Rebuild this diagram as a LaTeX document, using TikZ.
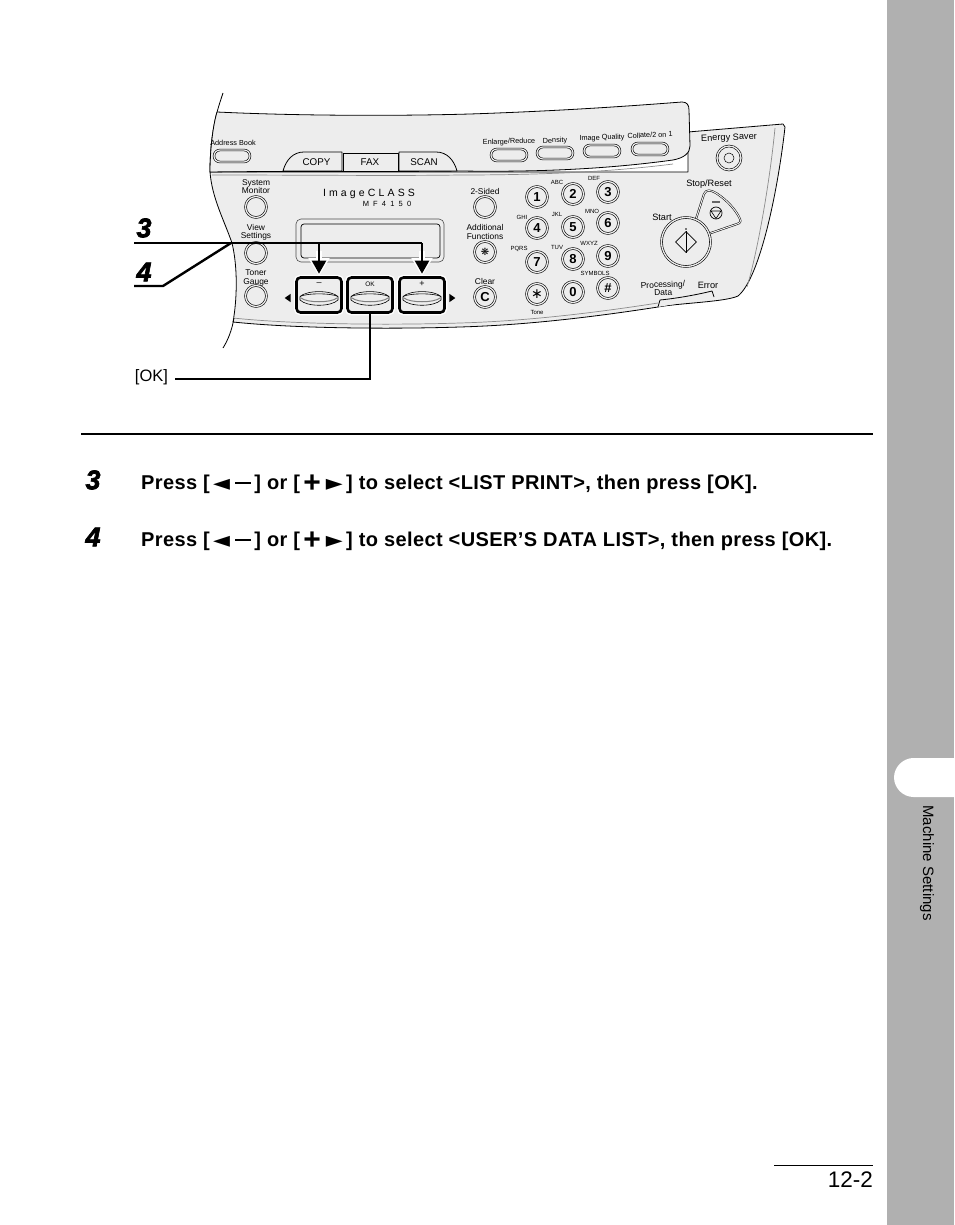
\documentclass[tikz,border=0pt]{standalone}
\usepackage{fontspec}
\setmainfont{Liberation Sans}
\newfontfamily\symfont{DejaVu Sans}
\newfontfamily\stepfont[BoldItalicFeatures={FakeBold=2.5}]{Liberation Sans}
\usetikzlibrary{positioning}
\usetikzlibrary{arrows.meta,shapes}
\usetikzlibrary{shapes.geometric}
\definecolor{panelgray}{gray}{0.93}
\definecolor{tabgray}{gray}{0.69}
\tikzstyle{panelline}=[draw=black,line width=0.8pt,line join=round]
\tikzstyle{softline}=[draw=black!45,line width=0.7pt]
\tikzstyle{keylabel}=[font=\fontsize{8.4}{8.2}\selectfont,align=center,inner sep=0pt]
\tikzstyle{toplabel}=[font=\fontsize{7.3}{8}\selectfont,inner sep=0pt,rotate=2]
\tikzstyle{biglabel}=[font=\fontsize{9.2}{9}\selectfont,align=center,inner sep=0pt]
\tikzstyle{tinylabel}=[font=\fontsize{6}{6}\selectfont,inner sep=0pt]
\tikzstyle{roundkey}=[circle,draw=black,line width=0.6pt,double=panelgray,double distance=1.3pt,fill=panelgray,minimum size=21pt,inner sep=0pt,font=\fontsize{13}{13}\bfseries\selectfont]
\tikzstyle{ovalkey}=[rounded rectangle,draw=black,line width=0.6pt,double=panelgray,double distance=1.2pt,minimum width=36pt,minimum height=12pt,inner sep=0pt]
\tikzstyle{softkey}=[draw=black,line width=2.6pt,rounded corners=4pt,fill=panelgray,minimum width=45pt,minimum height=35pt,inner sep=0pt,preaction={draw=white,line width=5.5pt}]
\tikzstyle{modetab}=[panelline,fill=panelgray]
\tikzstyle{leader}=[draw=black,line width=2.4pt]
\tikzstyle{stepnum}=[font=\stepfont\fontsize{27}{27}\bfseries\itshape\selectfont,inner sep=0pt]
\tikzstyle{steptext}=[font=\fontsize{20}{22}\bfseries\selectfont\addfontfeature{LetterSpace=2.0},anchor=west,inner sep=0pt]
\newcommand{\leftsign}{\raisebox{-1pt}{\symfont\fontsize{22}{22}\selectfont ◄}\hspace{5pt}\rule[4.8pt]{16pt}{2.4pt}}
\newcommand{\rightsign}{{\fontsize{30}{22}\selectfont\raisebox{-3pt}{+}}\hspace{5pt}\raisebox{-1pt}{\symfont\fontsize{22}{22}\selectfont ►}}
\begin{document}
\begin{tikzpicture}[x=1pt,y=-1pt]
   \useasboundingbox (0,0) rectangle (954,1225);

   % side band with its tab
   \fill[tabgray] (887,0) rectangle (954,1225);
   \fill[white] (954,758) -- (913.5,758) .. controls (903,758) and (894,767) .. (894,777.5)
      .. controls (894,788) and (903,797) .. (913.5,797) -- (954,797) -- cycle;
   \node[font=\fontsize{15}{15}\selectfont,rotate=-90,inner sep=0pt] (sidelabel) at (927,863) {Machine Settings};

   % panel body and flap
   \path[panelline,fill=panelgray] (210,172) .. controls (212,198) and (224,220) .. (232,243)
      .. controls (238,268) and (237,300) .. (233,322)
      .. controls (300,329) and (400,329) .. (460,327)
      .. controls (530,325) and (600,316) .. (658,307)
      .. controls (680,303) and (725,302) .. (738,296)
      .. controls (760,278) and (778,190) .. (785,127)
      -- (783,124) -- (688,132) -- (688,172) -- cycle;
   \path[softline] (775,128) .. controls (770,180) and (758,250) .. (747,287);
   \path[softline] (233,318) .. controls (300,325) and (400,325) .. (460,323)
      .. controls (530,321) and (600,312) .. (658,303);
   \path[panelline] (223,93) .. controls (218,108) and (210,130) .. (210,172);
   \path[panelline] (234,318) .. controls (232,330) and (228,340) .. (223,348);
   \path[panelline,fill=panelgray] (217,112) .. controls (300,116) and (400,116) .. (470,114)
      .. controls (560,111) and (630,106) .. (682,102)
      .. controls (687,102) and (689,105) .. (689,110) -- (690,146)
      .. controls (690,153) and (684,158) .. (673,160)
      .. controls (600,170) and (530,172) .. (460,171)
      .. controls (380,172) and (280,171) .. (210,172)
      .. controls (210,150) and (213,125) .. (217,112) -- cycle;
   \path[softline] (212,175) .. controls (300,175) and (400,176) .. (460,175)
      .. controls (540,175) and (610,172) .. (673,164);

   % copy fax scan tabs
   \path[modetab] (283,171) .. controls (286,160) and (293,152) .. (304,152) -- (342,152) -- (342,171) -- cycle;
   \path[modetab] (343,153) rectangle (398,171);
   \path[modetab] (399,171) -- (399,152) -- (436,152) .. controls (447,152) and (454,160) .. (457,171) -- cycle;
   \foreach \pos/\name/\label in {{(316.5,162)/copytab/COPY}, {(370,162)/faxtab/FAX}, {(424,162)/scantab/SCAN}}
        \node[font=\fontsize{9.8}{9}\selectfont,inner sep=0pt] (\name) at \pos {\label};

   % labels on the panel
   \node[keylabel,font=\fontsize{7.3}{8}\selectfont] (addrtext) at (233,143) {Address Book};
   \foreach \pos/\name/\label in {{(256,187)/systext/System\\Monitor}, {(256,232)/viewtext/View\\Settings},
        {(256,278)/tonertext/Toner\\Gauge}, {(485,191)/sidedtext/2-Sided}, {(485,232)/addtext/Additional\\Functions},
        {(485,281)/cleartext/Clear}}
        \node[keylabel] (\name) at \pos {\label};
   \foreach \pos/\name/\label in {{(509,142)/enltext/{Enlarge/Reduce}}, {(555,141)/dentext/Density}, {(602,138)/imgtext/Image Quality},
        {(650,135)/coltext/{Collate/2 on 1}}}
        \node[toplabel] (\name) at \pos {\label};
   \foreach \pos/\name/\label in {{(708,285)/errtext/Error}, {(662,217)/starttext/Start},
        {(709,184)/stoptext/{Stop/Reset}}}
        \node[biglabel] (\name) at \pos {\label};
   \node[biglabel,rotate=2] (energytext) at (729,138) {Energy Saver};
   \node[keylabel,font=\fontsize{8.5}{8}\selectfont,rotate=2] (proctext) at (663,288.5) {Processing/\\Data};
   \foreach \pos/\name/\label in {{(557,182)/abc/ABC}, {(594,178)/def/DEF}, {(522,217)/ghi/GHI}, {(557,214)/jkl/JKL}, {(592,211)/mno/MNO},
        {(519,249)/pqrs/PQRS}, {(557,247)/tuv/TUV}, {(589,243)/wxyz/WXYZ}, {(595,273)/symb/SYMBOLS}, {(537,312)/tone/Tone}}
        \node[tinylabel] (\name) at \pos {\label};
   \node[font=\fontsize{10.5}{10}\selectfont\addfontfeature{LetterSpace=30},inner sep=0pt] (brand) at (369,194) {ImageCLASS};
   \node[font=\fontsize{7.5}{8}\selectfont,inner sep=0pt] (model) at (387,204) {M\ \ F\ \ 4\ \ 1\ \ 5\ \ 0};

   % round keys
   \foreach \pos/\name/\label in {{(537,197)/key1/1}, {(573,194)/key2/2}, {(608,192)/key3/3}, {(537,228)/key4/4}, {(573,227)/key5/5},
        {(608,223)/key6/6}, {(537,262)/key7/7}, {(573,259)/key8/8}, {(608,256)/key9/9}, {(573,292)/key0/0}, {(608,288)/keyhash/\#},
        {(485,297)/keyc/C}, {(256,207)/keysys/}, {(256,253)/keyview/}, {(256,296)/keytoner/}, {(485,207)/keysided/}}
        \node[roundkey] (\name) at \pos {\label};
   \node[roundkey,font=\symfont\fontsize{14}{14}\selectfont] (keystar) at (537,294) {∗};
   \node[roundkey,font=\symfont\fontsize{10}{10}\selectfont] (keyadd) at (485,252) {❋};
   \node[roundkey,minimum size=24pt] (keyenergy) at (729,158) {};
   \node[circle,draw=black,line width=0.5pt,minimum size=10pt,inner sep=0pt] (energyicon) at (keyenergy) {};

   % oval keys
   \foreach \pos/\name in {{(232,156)/ovaladdr}, {(509,155)/ovalenl}, {(555,153)/ovaldens}, {(602,151)/ovalimg}, {(650,149)/ovalcol}}
        \node[ovalkey] (\name) at \pos {};

   % display
   \node[draw=black!70,line width=0.6pt,rounded corners=5pt,minimum width=148pt,minimum height=43pt,inner sep=0pt] (lcdframe) at (370,240.5) {};
   \node[draw=black,line width=0.7pt,rounded corners=3pt,minimum width=139pt,minimum height=34pt,inner sep=0pt] (lcd) at (370.5,241) {};

   % start and stop
   \path[panelline,double=panelgray,double distance=1pt,line width=0.5pt,fill=panelgray] (695,222) -- (704,194) .. controls (706,189) and (711,190) .. (716,193)
      .. controls (727,200) and (736,210) .. (740,219) .. controls (741,222) and (740,223) .. (737,224) -- (708,234) -- cycle;
   \node[roundkey,minimum size=49pt] (startkey) at (686,242) {};
   \node[diamond,draw=black,line width=0.7pt,minimum size=21pt,inner sep=0pt] (startsign) at (686,242) {};
   \draw[line width=0.6pt] (startsign.north) -- (startsign.south);
   \fill (686,229) circle (0.8);
   \node[circle,draw=black,line width=0.7pt,minimum size=12pt,inner sep=0pt] (stopsign) at (716,213) {};
   \draw[line width=0.6pt,line join=round] (711,211) -- (721,211) -- (716,218.5) -- cycle;
   \draw[black!60,line width=1.2pt] (712,202) -- (720,202);
   \path[panelline,fill=panelgray] (658,307) -- (660,300) .. controls (680,298) and (700,294) .. (712,291) -- (714,297);

   % soft keys below the display
   \foreach \cx/\name/\label in {319/minuskey/--, 370/okkey/{\fontsize{6.5}{7}\selectfont OK}, 422/pluskey/+}{
        \node[softkey] (\name) at (\cx,295) {};
        \node[font=\fontsize{9}{9}\selectfont,inner sep=0pt] (\name text) at (\cx,284) {\label};
        \draw[line width=0.6pt] (\cx-19,296.5) .. controls (\cx-12,290) and (\cx+12,290) .. (\cx+19,296.5);
        \draw[line width=0.6pt] (\cx-19,296.5) .. controls (\cx-12,293) and (\cx+12,293) .. (\cx+19,296.5);
        \draw[line width=0.6pt] (\cx-19,296.5) -- (\cx-19,300) .. controls (\cx-12,307) and (\cx+12,307) .. (\cx+19,300) -- (\cx+19,296.5);
        \draw[black!50,line width=1pt] (\cx-18,298) .. controls (\cx-12,303) and (\cx+12,303) .. (\cx+18,298);
   }
   \node[isosceles triangle,fill=black,isosceles triangle apex angle=70,minimum height=6pt,inner sep=0pt,shape border rotate=180] (lefttri) at (288.5,298) {};
   \node[isosceles triangle,fill=black,isosceles triangle apex angle=70,minimum height=6pt,inner sep=0pt] (righttri) at (451.5,298) {};

   % Connect step numbers with keys
   \coordinate (startthree) at (134,243);
   \coordinate (startfour) at (134,286);
   \coordinate (bendfour) at (163,286);
   \coordinate (joinfour) at (231,243);
   \coordinate (overminus) at (319,243);
   \coordinate (overplus) at (422,243);
   \coordinate (okcorner) at (370,379);
   \foreach \source/\dest in {overminus/minuskey, overplus/pluskey}{
        \draw[draw=white,line width=5.5pt,-{Triangle[width=20pt,length=18pt,fill=white]},shorten >=0pt] ([yshift=-8pt]\source) -- (\dest.north);
        \draw[leader,-{Triangle[width=14pt,length=13pt]},shorten >=2.5pt] (\source) -- (\dest.north);
   }
   \draw[leader,line join=miter] (startthree) -- (overplus);
   \draw[leader,line join=miter] (startfour) -- (bendfour) -- (joinfour);
   \node[inner sep=0pt,font=\fontsize{16.5}{16}\selectfont] (oklabel) at (151.5,377) {[OK]};
   \coordinate (okstart) at (175,379);
   \draw[leader,line join=miter] (okstart) -- (okcorner) -- (okkey.south);

   \node[stepnum] (numthree) at (144,228) {3};
   \node[stepnum] (numfour) at (144,272) {4};

   % rule and steps
   \coordinate (ruleleft) at (81,434);
   \coordinate (ruleright) at (873,434);
   \draw[line width=1.8pt] (ruleleft) -- (ruleright);
   \node[stepnum] (stepthree) at (93,480) {3};
   \node[stepnum] (stepfour) at (93,537) {4};
   \node[steptext] (textthree) at (141,484) {Press [\,\leftsign\,] or [\,\rightsign\,] to select <LIST PRINT>, then press [OK].};
   \node[steptext] (textfour) at (141,541) {Press [\,\leftsign\,] or [\,\rightsign\,] to select <USER’S DATA LIST>, then press [OK].};

   % page number
   \coordinate (pageleft) at (774,1165);
   \coordinate (pageright) at (873,1165);
   \draw[line width=0.9pt] (pageleft) -- (pageright);
   \node[font=\fontsize{22.5}{22}\selectfont,anchor=east,inner sep=0pt] (pagenum) at (873,1180) {12-2};
\end{tikzpicture}
\end{document}
